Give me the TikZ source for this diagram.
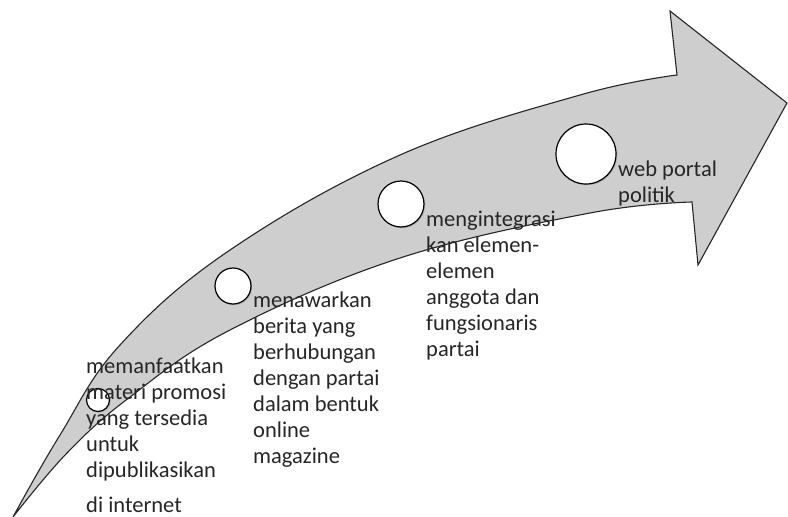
\documentclass[tikz,border=0pt]{standalone}
\usepackage{fontspec}
\setmainfont{Carlito}
\usepackage{xcolor}
\usepackage{tikz}
\usetikzlibrary{
	shadows,
	positioning
}
\definecolor{arrowgray}{RGB}{206,206,206}

\begin{document}
\begin{tikzpicture}[x=1pt, y=-1pt,
		dot/.style={circle, draw=black, line width=1.2pt, fill=white, inner sep=0pt,
			drop shadow={shadow xshift=1.2pt, shadow yshift=-1.2pt, opacity=0.35}},
		txt/.style={anchor=north west, inner sep=0pt, align=left,
			font=\fontsize{22.5}{26}\selectfont, text=black!85}]
		\useasboundingbox (0,0) rectangle (788,517);
		\coordinate (T) at (13,517);
		\coordinate (U) at (677,75);
		\coordinate (H1) at (670,11);
		\coordinate (H2) at (787,103);
		\coordinate (H3) at (698,265);
		\coordinate (L) at (692,202);
		% 箭头
		\filldraw[fill=arrowgray, draw=black!85, line width=1.1pt, line join=miter]
			plot[smooth, tension=0.65] coordinates {(T) (60,435) (120,345)
				(230,250) (400,155) (580,95) (U)}
			-- (H1) -- (H2) -- (H3) -- (L)
			-- plot[smooth, tension=0.65] coordinates {(L) (590,213) (400,258) (230,330)
				(130,397) (67,453) (T)}
			-- cycle;
		% 圆点
		\node[dot, minimum size=23pt] (c1) at (98,400) {};
		\node[dot, minimum size=36pt] (c2) at (233,286) {};
		\node[dot, minimum size=46pt] (c3) at (401,204) {};
		\node[dot, minimum size=60pt] (c4) at (586,154) {};
		% 文字
		\node[txt] (t1) at (86,358) {memanfaatkan\\materi promosi\\yang tersedia\\untuk\\dipublikasikan\\[9pt]di internet};
		\node[txt] (t2) at (253,292) {menawarkan\\berita yang\\berhubungan\\dengan partai\\dalam bentuk\\online\\magazine};
		\node[txt] (t3) at (426,211) {mengintegrasi\\kan elemen-\\elemen\\anggota dan\\fungsionaris\\partai};
		\node[txt] (t4) at (618,161) {web portal\\politik};
	\end{tikzpicture}
\end{document}
